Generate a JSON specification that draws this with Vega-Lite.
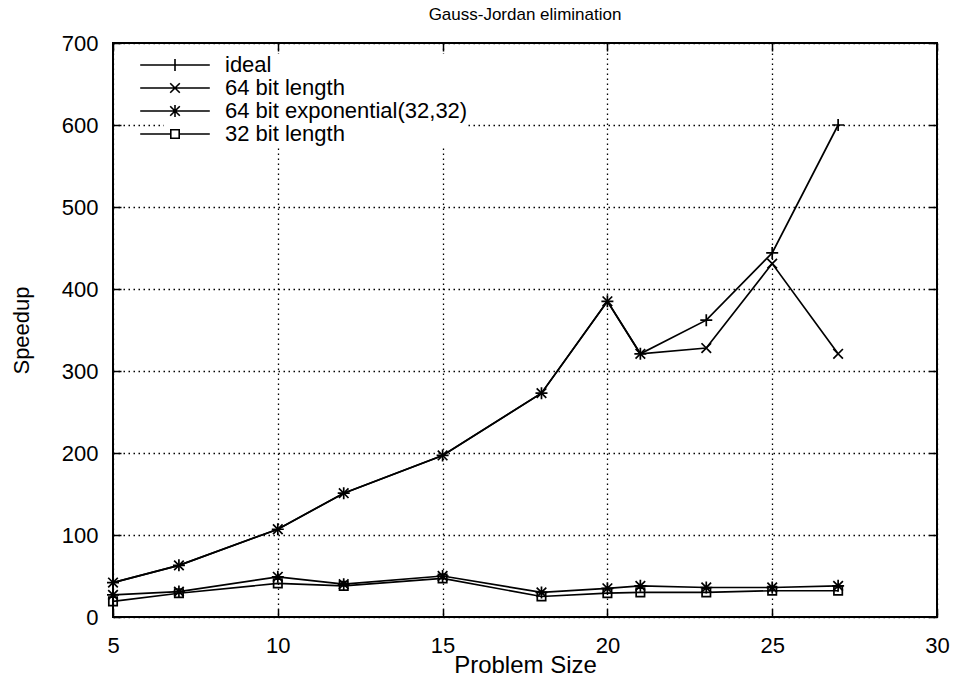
{
  "$schema": "https://vega.github.io/schema/vega-lite/v6.json",
  "width": 824,
  "height": 574,
  "autosize": "none",
  "padding": {"left": 113, "top": 43, "right": 19, "bottom": 64},
  "background": "white",
  "config": {
    "font": "Liberation Sans",
    "view": {"stroke": "black", "strokeWidth": 2},
    "axis": {"domain": false, "labelColor": "black", "titleColor": "black", "tickColor": "black", "labelFont": "Liberation Sans", "titleFont": "Liberation Sans", "titleFontWeight": "normal"}
  },
  "title": {"text": "Gauss-Jordan elimination", "fontSize": 17, "fontWeight": "normal", "font": "Liberation Sans", "color": "black", "anchor": "middle", "offset": 8},
  "data": {
    "values": [
      {"x": 5, "series": "ideal", "v": 42},
      {"x": 7, "series": "ideal", "v": 63},
      {"x": 10, "series": "ideal", "v": 107},
      {"x": 12, "series": "ideal", "v": 151},
      {"x": 15, "series": "ideal", "v": 197},
      {"x": 18, "series": "ideal", "v": 273},
      {"x": 20, "series": "ideal", "v": 385},
      {"x": 21, "series": "ideal", "v": 321},
      {"x": 23, "series": "ideal", "v": 362},
      {"x": 25, "series": "ideal", "v": 444},
      {"x": 27, "series": "ideal", "v": 600},
      {"x": 5, "series": "64 bit length", "v": 42},
      {"x": 7, "series": "64 bit length", "v": 63},
      {"x": 10, "series": "64 bit length", "v": 107},
      {"x": 12, "series": "64 bit length", "v": 151},
      {"x": 15, "series": "64 bit length", "v": 197},
      {"x": 18, "series": "64 bit length", "v": 273},
      {"x": 20, "series": "64 bit length", "v": 385},
      {"x": 21, "series": "64 bit length", "v": 321},
      {"x": 23, "series": "64 bit length", "v": 328},
      {"x": 25, "series": "64 bit length", "v": 431},
      {"x": 27, "series": "64 bit length", "v": 321},
      {"x": 5, "series": "64 bit exponential(32,32)", "v": 27},
      {"x": 7, "series": "64 bit exponential(32,32)", "v": 31},
      {"x": 10, "series": "64 bit exponential(32,32)", "v": 49},
      {"x": 12, "series": "64 bit exponential(32,32)", "v": 40},
      {"x": 15, "series": "64 bit exponential(32,32)", "v": 50},
      {"x": 18, "series": "64 bit exponential(32,32)", "v": 30},
      {"x": 20, "series": "64 bit exponential(32,32)", "v": 35},
      {"x": 21, "series": "64 bit exponential(32,32)", "v": 38},
      {"x": 23, "series": "64 bit exponential(32,32)", "v": 36},
      {"x": 25, "series": "64 bit exponential(32,32)", "v": 36},
      {"x": 27, "series": "64 bit exponential(32,32)", "v": 38},
      {"x": 5, "series": "32 bit length", "v": 19},
      {"x": 7, "series": "32 bit length", "v": 29},
      {"x": 10, "series": "32 bit length", "v": 41},
      {"x": 12, "series": "32 bit length", "v": 38},
      {"x": 15, "series": "32 bit length", "v": 47},
      {"x": 18, "series": "32 bit length", "v": 25},
      {"x": 20, "series": "32 bit length", "v": 29},
      {"x": 21, "series": "32 bit length", "v": 30},
      {"x": 23, "series": "32 bit length", "v": 30},
      {"x": 25, "series": "32 bit length", "v": 32},
      {"x": 27, "series": "32 bit length", "v": 32}
    ]
  },
  "layer": [
    {
      "mark": {"type": "line", "color": "black", "strokeWidth": 1.7},
      "encoding": {
        "x": {"field": "x", "type": "quantitative", "scale": {"domain": [5, 30], "nice": false, "zero": false},
          "axis": {"values": [5, 10, 15, 20, 25, 30], "title": "Problem Size", "titleFontSize": 24, "titlePadding": -3, "labelFontSize": 22, "labelPadding": 26, "tickSize": -8, "tickWidth": 1.5, "grid": true, "gridColor": "black", "gridDash": [1.5, 3.5], "gridWidth": 1.3, "labelFlush": false}},
        "y": {"field": "v", "type": "quantitative", "scale": {"domain": [0, 700], "nice": false},
          "axis": {"values": [0, 100, 200, 300, 400, 500, 600, 700], "title": "Speedup", "titleFontSize": 22, "titlePadding": 28, "labelFontSize": 22, "labelPadding": 23, "tickSize": -8, "tickWidth": 1.5, "grid": true, "gridColor": "black", "gridDash": [1.5, 3.5], "gridWidth": 1.3, "labelFlush": false}},
        "detail": {"field": "series"},
        "order": {"field": "x"}
      }
    },
    {
      "mark": {"type": "point", "filled": false, "stroke": "black", "strokeWidth": 1.7, "size": 144, "opacity": 1},
      "encoding": {
        "x": {"field": "x", "type": "quantitative", "axis": null},
        "y": {"field": "v", "type": "quantitative", "axis": null},
        "shape": {"field": "series", "type": "nominal", "legend": null,
          "scale": {"domain": ["ideal", "64 bit length", "64 bit exponential(32,32)", "32 bit length"],
            "range": ["M-1,0H1M0,-1V1", "M-0.8,-0.8L0.8,0.8M-0.8,0.8L0.8,-0.8", "M-1,0H1M0,-1V1M-0.8,-0.8L0.8,0.8M-0.8,0.8L0.8,-0.8", "M-0.7,-0.7H0.7V0.7H-0.7Z"]}}
      }
    },
    {
      "mark": {"type": "point", "filled": false, "stroke": "black", "strokeWidth": 1.6, "size": 144, "opacity": 0},
      "encoding": {
        "x": {"field": "x", "type": "quantitative",
          "axis": {"orient": "top", "labels": false, "title": null, "grid": false, "tickSize": -8, "tickWidth": 1.5, "values": [5, 10, 15, 20, 25, 30]}},
        "y": {"field": "v", "type": "quantitative",
          "axis": {"orient": "right", "labels": false, "title": null, "grid": false, "tickSize": -8, "tickWidth": 1.5, "values": [0, 100, 200, 300, 400, 500, 600, 700]}},
        "shape": {"field": "series", "type": "nominal",
          "scale": {"domain": ["ideal", "64 bit length", "64 bit exponential(32,32)", "32 bit length"],
            "range": ["M-5.8,0H5.8M0,-1V1", "M-5.8,0H5.8M-0.8,-0.8L0.8,0.8M-0.8,0.8L0.8,-0.8", "M-5.8,0H5.8M0,-1V1M-0.8,-0.8L0.8,0.8M-0.8,0.8L0.8,-0.8", "M-5.8,0H-0.7M0.7,0H5.8M-0.7,-0.7H0.7V0.7H-0.7Z"]},
          "legend": {"orient": "none", "legendX": 51, "legendY": 11, "title": null, "padding": 0, "fillColor": "white", "symbolOpacity": 1, "symbolSize": 144, "symbolStrokeColor": "black", "symbolFillColor": "transparent", "symbolStrokeWidth": 1.6, "labelFontSize": 22, "labelFont": "Liberation Sans", "labelColor": "black", "labelOffset": 39, "rowPadding": 1, "labelLimit": 400}}
      }
    }
  ],
  "resolve": {"scale": {"shape": "independent"}, "axis": {"x": "independent", "y": "independent"}}
}
